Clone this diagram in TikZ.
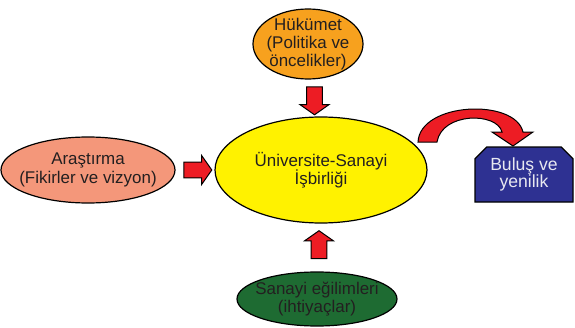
\documentclass[tikz,border=0pt]{standalone}
\usepackage{fontspec}
\setmainfont{Liberation Sans}
\usetikzlibrary{shapes.geometric,shapes.arrows,shapes.misc,calc}

\definecolor{govorange}{RGB}{247,161,30}
\definecolor{researchsalmon}{RGB}{244,151,122}
\definecolor{coopyellow}{RGB}{255,242,0}
\definecolor{industrygreen}{RGB}{30,107,50}
\definecolor{resultblue}{RGB}{46,49,146}
\definecolor{arrowred}{RGB}{237,28,36}
\definecolor{textdark}{RGB}{35,31,32}

\tikzset{every picture/.style={line width=0.9pt}}

\begin{document}
\begin{tikzpicture}[x=0.75pt,y=0.75pt,yscale=-1,xscale=1,
	ellnode/.style={ellipse, draw=black, inner sep=0pt, outer sep=0pt},
	elltext/.style={font=\fontsize{12.7}{13.7}\selectfont, align=center, text=textdark, inner sep=0pt},
	blockarrow/.style={single arrow, draw=black, fill=arrowred, line width=0.75pt, inner sep=0pt, inner ysep=5.6pt, minimum height=21pt, single arrow head extend=4.9pt, single arrow tip angle=110, outer sep=0pt}]
	%uncomment if require: \path (0,328); %set diagram left start at 0, and has height of 328
	\useasboundingbox (0,0) rectangle (575,328);
	
	%Shape: Ellipse [id:hukumet] 
	\node [ellnode, fill=govorange, minimum width=82.5pt, minimum height=52.5pt, label={[elltext]center:{Hükümet\\(Politika ve\\öncelikler)}}] (hukumet) at (308,44) {};
	%Shape: Ellipse [id:arastirma] 
	\node [ellnode, fill=researchsalmon, minimum width=130.5pt, minimum height=49.5pt, label={[elltext]center:{Araştırma\\(Fikirler ve vizyon)}}] (arastirma) at (88,170) {};
	%Shape: Ellipse [id:universite] 
	\node [ellnode, fill=coopyellow, minimum width=159pt, minimum height=79.5pt, label={[elltext]center:{Üniversite-Sanayi\\İşbirliği}}] (universite) at (321,170) {};
	%Shape: Ellipse [id:sanayi] 
	\node [ellnode, fill=industrygreen, minimum width=120pt, minimum height=40.5pt, label={[elltext]center:{Sanayi eğilimleri\\(ihtiyaçlar)}}] (sanayi) at (317,299) {};
	%Shape: Chamfered Rectangle [id:bulus] 
	\node [chamfered rectangle, chamfered rectangle corners={north west,north east}, chamfered rectangle xsep=5.3pt, draw=black, fill=resultblue, minimum width=73.5pt, minimum height=41.25pt, inner sep=0pt, outer sep=0pt, align=center, text={rgb,255:red,232;green,232;blue,240}, font=\fontsize{13.2}{13.4}\selectfont] (bulus) at (524,174.5) {Buluş ve\\yenilik};
	
	%Block Arrows
	\node [blockarrow, rotate=-90] (govarrow) at ($(hukumet.south)!0.5!(universite.north)$) {};
	\node [blockarrow] (resarrow) at ($(arastirma.east)!0.5!(universite.west)$) {};
	\node [blockarrow, rotate=90] (indarrow) at ($(sanayi.north)!0.5!(universite.south)$) {};
	
	%Curved Arrow [id:outarrow] 
	\draw [fill=arrowred, line width=0.75pt] (418,142) .. controls (420,102) and (515,98) .. (523,132) -- (533,132) -- (513,146) -- (492,132) -- (502,132) .. controls (497,112) and (442,112) .. (437,142) -- cycle ;
	
\end{tikzpicture}
\end{document}
